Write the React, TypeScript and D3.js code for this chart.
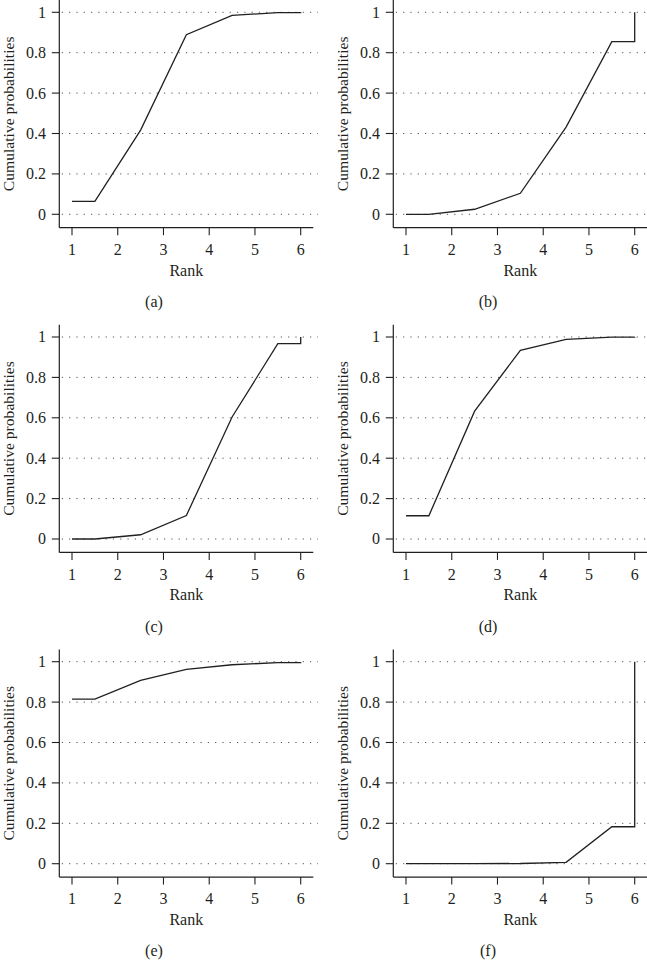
import React from "react";
import * as d3 from "d3";

const ranks = [1, 2, 3, 4, 5, 6];
const yTicks = [0, 0.2, 0.4, 0.6, 0.8, 1];
const yTickLabels = ["0", "0.2", "0.4", "0.6", "0.8", "1"];
const captions = ["(a)", "(b)", "(c)", "(d)", "(e)", "(f)"];

const seriesA = [0.064, 0.417, 0.889, 0.985, 0.998, 1];
const seriesB = [0, 0.025, 0.104, 0.432, 0.855, 1];
const seriesC = [0, 0.021, 0.116, 0.604, 0.967, 1];
const seriesD = [0.115, 0.633, 0.934, 0.988, 0.999, 1];
const seriesE = [0.815, 0.908, 0.962, 0.985, 0.995, 0.997];
const seriesF = [0, 0.0005, 0.001, 0.007, 0.183, 1];

const allSeries = [seriesA, seriesB, seriesC, seriesD, seriesE, seriesF];

const W = 647;
const H = 960;
const colOffsets = [0, 334];
const rowOffsets = [0, 324.7, 649.4];

const FONT = "'Liberation Serif', 'Times New Roman', serif";
const INK = "#231f20";
const FS = 16;

const x = d3.scaleLinear().domain([1, 6]).range([72, 300.7]);
const y = d3.scaleLinear().domain([0, 1]).range([214.3, 12.3]);

const axisLeftX = 59.3;
const axisBottomY = 227.7;
const axisRightX = 313.3;
const axisTopY = 0;

function pathPoints(v: number[]): [number, number][] {
  return [
    [ranks[0], v[0]],
    [1.5, v[0]],
    [2.5, v[1]],
    [3.5, v[2]],
    [4.5, v[3]],
    [5.5, v[4]],
    [ranks[5], v[4]],
    [ranks[5], v[5]],
  ];
}

const line = d3
  .line<[number, number]>()
  .x((d) => x(d[0]))
  .y((d) => y(d[1]));

function Panel({ values, caption, dx, dy }: { values: number[]; caption: string; dx: number; dy: number }) {
  return (
    <g transform={`translate(${dx},${dy})`}>
      {yTicks.map((t) => (
        <line
          key={"g" + t}
          x1={axisLeftX + 2.5}
          x2={318}
          y1={y(t)}
          y2={y(t)}
          stroke="#555"
          strokeWidth={1}
          strokeDasharray="1.2,6.1"
        />
      ))}
      <line x1={axisLeftX} x2={axisLeftX} y1={axisTopY} y2={axisBottomY} stroke={INK} strokeWidth={1.2} />
      <line x1={axisLeftX} x2={axisRightX} y1={axisBottomY} y2={axisBottomY} stroke={INK} strokeWidth={1.2} />
      {yTicks.map((t, i) => (
        <g key={"yt" + t}>
          <line x1={axisLeftX - 7.5} x2={axisLeftX} y1={y(t)} y2={y(t)} stroke={INK} strokeWidth={1.1} />
          <text
            x={46}
            y={y(t)}
            dy="0.34em"
            textAnchor="end"
            fontFamily={FONT}
            fontSize={FS}
            fill={INK}
          >
            {yTickLabels[i]}
          </text>
        </g>
      ))}
      {ranks.map((r) => (
        <g key={"xt" + r}>
          <line x1={x(r)} x2={x(r)} y1={axisBottomY} y2={axisBottomY + 7.5} stroke={INK} strokeWidth={1.1} />
          <text x={x(r)} y={255} textAnchor="middle" fontFamily={FONT} fontSize={FS} fill={INK}>
            {r}
          </text>
        </g>
      ))}
      <text
        x={(axisLeftX + axisRightX) / 2}
        y={275.5}
        textAnchor="middle"
        fontFamily={FONT}
        fontSize={FS}
        fill={INK}
      >
        Rank
      </text>
      <text
        transform={`translate(14.2,${(axisTopY + axisBottomY) / 2}) rotate(-90)`}
        textAnchor="middle"
        fontFamily={FONT}
        fontSize={15.6}
        fill={INK}
      >
        Cumulative probabilities
      </text>
      <path d={line(pathPoints(values)) || ""} fill="none" stroke={INK} strokeWidth={1.3} />
      <text x={154} y={307} textAnchor="middle" fontFamily={FONT} fontSize={FS} fill={INK}>
        {caption}
      </text>
    </g>
  );
}

export default function App() {
  return (
    <div style={{ position: "absolute", left: 0, top: 0 }}>
      <svg width={W} height={H} viewBox={`0 0 ${W} ${H}`} style={{ display: "block", background: "#fff" }}>
        {allSeries.map((s, i) => (
          <Panel
            key={captions[i]}
            values={s}
            caption={captions[i]}
            dx={colOffsets[i % 2]}
            dy={rowOffsets[Math.floor(i / 2)]}
          />
        ))}
      </svg>
    </div>
  );
}
